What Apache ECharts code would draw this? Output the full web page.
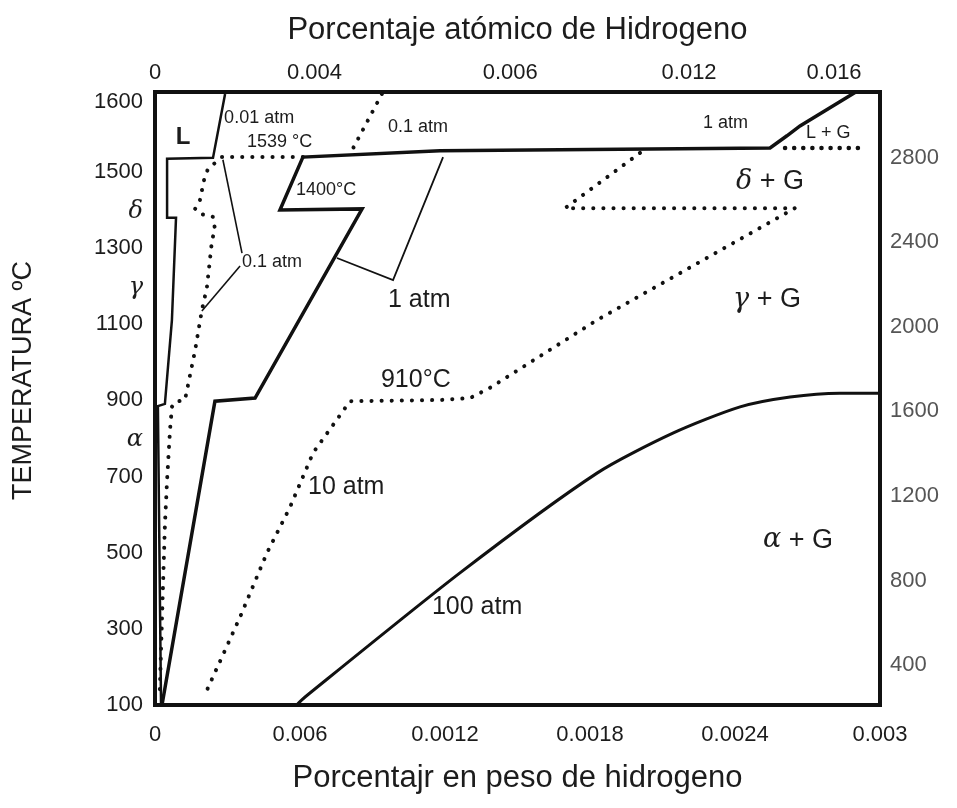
<!DOCTYPE html>
<html><head><meta charset="utf-8">
<script src="https://cdn.jsdelivr.net/npm/echarts@6/dist/echarts.min.js"></script>
<style>html,body{margin:0;padding:0;background:#fff}#c{width:957px;height:808px}</style>
</head><body><div id="c"></div>
<script>
// ---- axis ticks / labels ----
const weightTicks = [0, 0.0006, 0.0012, 0.0018, 0.0024, 0.003];
const weightTickLabels = ['0', '0.006', '0.0012', '0.0018', '0.0024', '0.003'];
const atomicTickAt = [0, 0.00066, 0.00147, 0.00221, 0.00281];
const atomicTickLabels = ['0', '0.004', '0.006', '0.012', '0.016'];
const celsiusTicks = [100, 300, 500, 700, 900, 1100, 1300, 1500, 1684];
const celsiusTickLabels = ['100', '300', '500', '700', '900', '1100', '1300', '1500', '1600'];
const phaseLetterAt = [1395, 1195, 796];
const phaseLetters = ['δ', 'γ', 'α'];
const fahrenheitTicks = [400, 800, 1200, 1600, 2000, 2400, 2800];

// ---- boundary lines: [wt% H, °C] ----
const line1atm = [[0.00290,1710],[0.002669,1621],[0.002615,1595],[0.002545,1563],[0.001179,1556],[0.000612,1539],[0.000517,1400],[0.000857,1403],[0.000414,906],[0.000248,898],[0.000029,100]];
const line001atm = [[0.000290,1705],[0.000240,1537],[0.000050,1535],[0.000050,1380],[0.000087,1380],[0.000070,1111],[0.000041,891],[0.000012,885],[0.000025,100]];
const dotted01atm = [[0.000612,1539],[0.000277,1539],[0.000219,1508],[0.000203,1479],[0.000186,1426],[0.000166,1403],[0.000186,1390],[0.000240,1382],[0.000248,1350],[0.000236,1321],[0.000215,1198],[0.000194,1137],[0.000166,1032],[0.000124,901],[0.000083,896],[0.000070,883],[0.000062,822],[0.000050,691],[0.000041,573],[0.000029,330],[0.000020,140]];
const dotted01atmTop = [[0.000939,1705],[0.000807,1547]];
const dotted10atm = [[0.002007,1550],[0.001697,1405],[0.002648,1405],[0.001829,1111],[0.001386,933],[0.001303,906],[0.001179,901],[0.000807,898],[0.000654,762],[0.000559,620],[0.000463,499],[0.000352,331],[0.000215,139],[0.000207,121]];
const dottedLG = [[0.002607,1563],[0.00293,1563]];
const leader01a = [[0.000281,1532],[0.000360,1287]];
const leader01b = [[0.000352,1253],[0.000194,1135]];
const leader1 = [[0.001192,1539],[0.000985,1216],[0.000753,1274]];
const curve100atm = [[0.000586,100],[0.000621,121],[0.001262,447],[0.001829,709],[0.002143,814],[0.002421,883],[0.002628,909],[0.002834,919],[0.003,919]];

// ---- annotations: [x, y, text] ----
const smallNotes = [[0.000286,1642,'0.01 atm'],[0.000381,1579,'1539 °C'],[0.000964,1618,'0.1 atm'],[0.000583,1453,'1400°C'],[0.00036,1264,'0.1 atm'],[0.002268,1629,'1 atm'],[0.002694,1602,'L + G']];
const largeNotes = [[0.000964,1164,'1 atm'],[0.000935,954,'910°C'],[0.000633,673,'10 atm'],[0.001146,357,'100 atm']];
const phaseNotes = [[0.002404,1474,'δ + G'],[0.002392,1164,'γ + G'],[0.002516,533,'α + G']];
const liquidNote = [[0.000116,1592,'L']];

const FONT = "'Liberation Sans Narrow','Liberation Sans',Arial,sans-serif";
const INK = '#111';
const TXT = '#1c1c1c';

function near(arr, v, tol) { for (let i = 0; i < arr.length; i++) if (Math.abs(arr[i] - v) < tol) return i; return -1; }

function solid(data, w, smooth) {
  return { type: 'line', data, symbol: 'none', silent: true, z: 3, smooth: smooth || false,
    lineStyle: { color: INK, width: w, join: 'miter' } };
}
function dotted(data, w, gap) {
  return { type: 'line', data, symbol: 'none', silent: true, z: 3,
    lineStyle: { color: INK, width: w, type: [0.1, gap], cap: 'round' } };
}
function notes(data, label) {
  return { type: 'scatter', data, symbolSize: 0, silent: true, z: 5,
    itemStyle: { opacity: 1 },
    label: Object.assign({ show: true, position: 'right', distance: 0, color: TXT, opacity: 1, fontFamily: FONT,
      formatter: p => p.data[2] }, label) };
}

const chart = echarts.init(document.getElementById('c'), null, { renderer: 'canvas' });
chart.setOption({
  backgroundColor: '#fff',
  animation: false,
  grid: { left: 155, right: 77, top: 92, bottom: 103, show: true, borderColor: INK, borderWidth: 4, backgroundColor: 'transparent' },
  xAxis: [
    { type: 'value', min: 0, max: 0.003, position: 'bottom',
      axisLine: { show: false }, axisTick: { show: false }, splitLine: { show: false },
      axisLabel: { customValues: weightTicks, margin: 19, color: TXT, fontFamily: FONT, fontSize: 22,
        formatter: v => weightTickLabels[near(weightTicks, v, 1e-6)] },
      name: 'Porcentajr en peso de hidrogeno', nameLocation: 'middle', nameGap: 58,
      nameTextStyle: { color: TXT, fontFamily: FONT, fontSize: 31 } },
    { type: 'value', min: 0, max: 0.003, position: 'top',
      axisLine: { show: false }, axisTick: { show: false }, splitLine: { show: false },
      axisLabel: { customValues: atomicTickAt, margin: 8, color: TXT, fontFamily: FONT, fontSize: 22,
        formatter: v => atomicTickLabels[near(atomicTickAt, v, 1e-6)] },
      name: 'Porcentaje atómico de Hidrogeno', nameLocation: 'middle', nameGap: 46,
      nameTextStyle: { color: TXT, fontFamily: FONT, fontSize: 31 } }
  ],
  yAxis: [
    { type: 'value', min: 100, max: 1710, position: 'left',
      axisLine: { show: false }, axisTick: { show: false }, splitLine: { show: false },
      axisLabel: { customValues: celsiusTicks.concat(phaseLetterAt), margin: 12, color: TXT, fontFamily: FONT, fontSize: 22,
        formatter: v => { const i = near(celsiusTicks, v, 0.5); if (i >= 0) return celsiusTickLabels[i];
          return '{g|' + phaseLetters[near(phaseLetterAt, v, 0.5)] + '}'; },
        rich: { g: { fontFamily: "'DejaVu Serif',serif", fontStyle: 'italic', fontSize: 24, color: TXT } } },
      name: 'TEMPERATURA ºC', nameLocation: 'middle', nameGap: 118, nameRotate: 90,
      nameTextStyle: { color: TXT, fontFamily: FONT, fontSize: 27, padding: [0, 0, 0, 36] } },
    { type: 'value', min: 212, max: 3110, position: 'right',
      axisLine: { show: false }, axisTick: { show: false }, splitLine: { show: false },
      axisLabel: { customValues: fahrenheitTicks, margin: 10, color: '#555', fontFamily: FONT, fontSize: 22,
        formatter: v => String(v) } }
  ],
  series: [
    solid(line1atm, 3.5),
    solid(line001atm, 2.5),
    solid(curve100atm, 3, 0.25),
    solid(leader01a, 1.6),
    solid(leader01b, 1.6),
    solid(leader1, 1.8),
    dotted(dotted01atm, 4, 10),
    dotted(dotted01atmTop, 4, 10),
    dotted(dotted10atm, 4, 10),
    dotted(dottedLG, 4.5, 9),
    notes(smallNotes, { fontSize: 18 }),
    notes(largeNotes, { fontSize: 25 }),
    notes(phaseNotes, { fontSize: 27,
      formatter: p => '{g|' + p.data[2].charAt(0) + '}' + p.data[2].slice(1),
      rich: { g: { fontFamily: "'DejaVu Serif',serif", fontStyle: 'italic', fontSize: 27, color: TXT } } }),
    notes(liquidNote, { position: 'inside', fontFamily: "'Liberation Sans',Arial,sans-serif", fontWeight: 'bold', fontSize: 24 })
  ]
});
</script></body></html>
